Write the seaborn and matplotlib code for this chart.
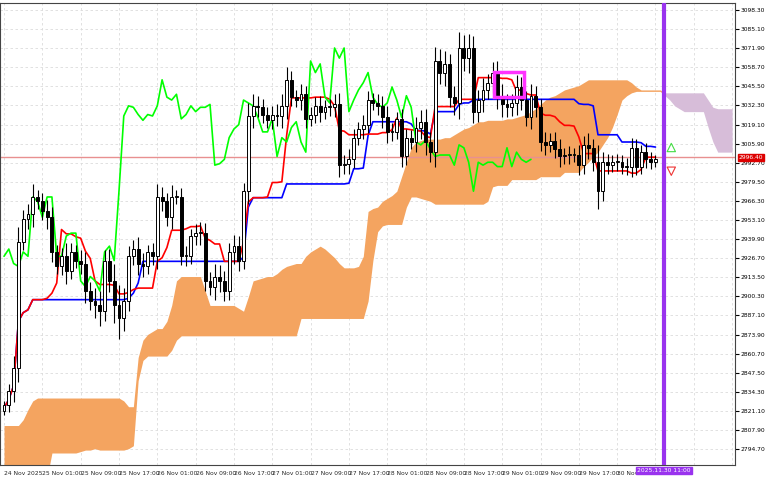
import numpy as np
import pandas as pd
import matplotlib
matplotlib.use("Agg")
import matplotlib.pyplot as plt
import seaborn as sns
from matplotlib.patches import Rectangle

sns.set_style("white")
plt.rcParams['font.family'] = ['DejaVu Sans']

close = [2825, 2835, 2851, 2938, 2954, 2957, 2969, 2966, 2959, 2955, 2931, 2921, 2928, 2918, 2931, 2925,
         2923, 2904, 2897, 2894, 2890, 2925, 2911, 2894, 2885, 2897, 2928, 2933, 2923, 2921, 2931, 2928,
         2969, 2966, 2955, 2969, 2969, 2928, 2928, 2942, 2944, 2944, 2911, 2907, 2914, 2911, 2904, 2931,
         2935, 2925, 2973, 3025, 3032, 3031, 3026, 3022, 3026, 3025, 3032, 3050, 3038, 3036, 3040, 3023,
         3026, 3032, 3028, 3031, 3031, 3033, 2991, 2992, 2995, 3010, 3016, 3019, 3036, 3034, 3032, 3024,
         3014, 3014, 3023, 2997, 3010, 3007, 3017, 3021, 3007, 3000, 3063, 3055, 3061, 3038, 3034, 3072,
         3065, 3072, 3028, 3036, 3043, 3048, 3055, 3038, 3033, 3031, 3034, 3045, 3036, 3024, 3039, 3031,
         3007, 3005, 3008, 3002, 2997, 2998, 2998, 2998, 2991, 3005, 3003, 2993, 2973, 2993, 2991, 2993,
         2993, 2990, 2990, 3003, 2990, 3000, 2995, 2993, 2995]
wick = [3, 5, 8, 10, 6, 7, 9, 5, 6, 8, 7, 5, 6, 9, 6, 5,
        7, 8, 6, 9, 10, 7, 8, 12, 14, 9, 7, 6, 8, 7, 5, 6,
        9, 7, 6, 8, 5, 6, 7, 5, 6, 8, 7, 6, 9, 8, 7, 6,
        8, 7, 6, 9, 8, 7, 6, 5, 6, 7, 8, 9, 6, 5, 7, 6,
        5, 6, 7, 5, 6, 7, 8, 6, 7, 6, 5, 7, 6, 5, 6, 7,
        8, 6, 5, 7, 6, 5, 7, 8, 9, 7, 10, 8, 9, 7, 8, 11,
        9, 10, 8, 7, 8, 6, 7, 8, 9, 7, 6, 8, 7, 6, 8, 7,
        6, 7, 5, 6, 7, 5, 6, 5, 7, 6, 8, 6, 12, 7, 6, 5,
        6, 5, 6, 7, 6, 5, 6, 5, 3]
cloud_top = ([2811] * 4 + [2815, 2822, 2828] + [2830] * 18 + [2828, 2824, 2824, 2858, 2870, 2874,
             2876, 2878, 2878, 2883, 2894, 2911] + [2914] * 5 + [2904] + [2894] * 6 +
             [2892, 2890, 2900, 2911, 2912, 2913, 2914, 2914, 2916, 2919, 2921, 2922, 2923, 2923,
              2928, 2931, 2933, 2935, 2933, 2930, 2927, 2923, 2920, 2920, 2920, 2921, 2928, 2959,
              2961, 2962, 2966, 2968, 2970, 2973, 2983, 2993, 3003, 3007, 3008] + [3009] * 4 +
             [3010, 3010, 3012, 3014, 3016, 3017, 3019, 3021, 3021] + [3022] * 4 +
             [3023, 3023, 3024, 3025, 3026, 3028, 3030, 3033, 3036, 3038, 3039, 3041, 3043, 3044,
              3045, 3046, 3048] + [3050] * 9 + [3048, 3045, 3043] + [3043] * 4 + [3041] * 9 +
             [3036, 3031] + [3030] * 4)
cloud_bottom = ([2775] * 10 + [2792] * 6 + [2793, 2794, 2794, 2795] + [2794] * 6 + [2795, 2797, 2842, 2856] +
                [2859] * 5 + [2863, 2870] + [2873] * 25 + [2885] * 14 +
                [2897, 2925, 2945, 2949] + [2950] * 4 + [2962, 2969, 2969, 2968, 2967, 2966] +
                [2964] * 11 + [2966, 2976, 2977, 2977, 2977] + [2981] * 6 + [2983] * 5 +
                [2986] * 4 + [2990, 2993, 2997, 3000, 3005, 3010, 3017, 3026, 3036, 3039, 3041] +
                [3042] * 6 + [3039, 3036, 3032, 3030] + [3028] * 5 + [3017, 3007] + [3000] * 4)
yticks = [3098.30, 3085.10, 3071.90, 3058.70, 3045.50, 3032.30, 3019.10, 3005.90, 2992.70,
          2979.50, 2966.30, 2953.10, 2939.90, 2926.70, 2913.50, 2900.30, 2887.10, 2873.90,
          2860.70, 2847.50, 2834.30, 2821.10, 2807.90, 2794.70]
xlabels = ["24 Nov 2025", "25 Nov 01:00", "25 Nov 09:00", "25 Nov 17:00", "26 Nov 01:00",
           "26 Nov 09:00", "26 Nov 17:00", "27 Nov 01:00", "27 Nov 09:00", "27 Nov 17:00",
           "28 Nov 01:00", "28 Nov 09:00", "28 Nov 17:00", "29 Nov 01:00", "29 Nov 09:00",
           "29 Nov 17:00", "30 Nov 0"]
current_price = 2996.40
cursor_label = "2025.11.30 11:00"

N = len(close)
c = np.array(close, float)
o = np.concatenate([[c[0] - 4], c[:-1]])
w = np.array(wick, float)[:N]
hi = np.maximum(o, c) + w
lo = np.minimum(o, c) - w
hs, ls = pd.Series(hi), pd.Series(lo)
tenkan = ((hs.rolling(9, min_periods=1).max() + ls.rolling(9, min_periods=1).min()) / 2).values
kijun = ((hs.rolling(26, min_periods=1).max() + ls.rolling(26, min_periods=1).min()) / 2).values
ct = np.array(cloud_top, float)
cb = np.array(cloud_bottom, float)
L = min(len(ct), len(cb))
ct, cb = ct[:L], cb[:L]
xc = np.arange(L)
idx = np.arange(N)
vx = N + 0.8

fig = plt.figure(figsize=(7.68, 4.8), dpi=100)
ax = fig.add_axes([0.0, 15 / 480, 735 / 768, 1 - 18 / 480])
ax.set_xlim(-0.84, 152.6)
ax.set_ylim(2783.7, 3103.1)

for yv in yticks:
    ax.axhline(yv, color="#dcdcdc", lw=0.6, ls=(0, (3, 3)), zorder=0)
for k in range(0, 153, 8):
    ax.axvline(k, color="#dcdcdc", lw=0.6, ls=(0, (3, 3)), zorder=0)

past = xc <= N + 1
ax.fill_between(xc, ct, cb, where=past, color="#F4A460", lw=0, zorder=1)
ax.fill_between(xc, ct, cb, where=~past | (xc == N + 1), color="#D7BDD9", lw=0, zorder=1)

ax.axhline(current_price, color="#e89090", lw=1, zorder=2)

df = pd.DataFrame({"x": idx, "tenkan": tenkan, "kijun": kijun})
sns.lineplot(data=df, x="x", y="kijun", color="#0000ff", lw=1.2, ax=ax, zorder=3)
sns.lineplot(data=df, x="x", y="tenkan", color="#ff0000", lw=1.2, ax=ax, zorder=3)
chik = pd.DataFrame({"x": idx[:N - 26], "v": c[26:]})
sns.lineplot(data=chik, x="x", y="v", color="#00ff00", lw=1.2, ax=ax, zorder=3)

ax.vlines(idx, lo, hi, color="black", lw=0.8, zorder=4)
for i in range(N):
    up = c[i] >= o[i]
    b0, h = min(o[i], c[i]), max(abs(c[i] - o[i]), 0.6)
    ax.add_patch(Rectangle((i - 0.3, b0), 0.6, h, facecolor="white" if up else "black",
                           edgecolor="black", lw=0.7, zorder=5))

ax.add_patch(Rectangle((102.3, 3038), 6.2, 17.5, fill=False, edgecolor="#ff33ff", lw=2.5, zorder=6))
ax.axvline(vx, color="#9933ee", lw=3, zorder=6)
ax.annotate("", xy=(vx + 1.5, 3008), xytext=(vx + 1.5, 2999),
            arrowprops=dict(arrowstyle="simple,head_width=0.6,head_length=0.6,tail_width=0.3",
                            fc="white", ec="#44dd44", lw=0.8), zorder=7)
ax.annotate("", xy=(vx + 1.5, 2982), xytext=(vx + 1.5, 2991),
            arrowprops=dict(arrowstyle="simple,head_width=0.6,head_length=0.6,tail_width=0.3",
                            fc="white", ec="#ee3333", lw=0.8), zorder=7)

ax.yaxis.tick_right()
ax.set_yticks(yticks)
ax.set_yticklabels([f"{v:.2f}" for v in yticks], fontsize=4.3)
ax.tick_params(axis="y", length=3, pad=1, colors="black")
ax.set_xticks(range(0, 8 * len(xlabels), 8))
ax.set_xticklabels(xlabels, fontsize=4.3, ha="left")
ax.tick_params(axis="x", length=2, pad=2)
ax.set_xlabel("")
ax.set_ylabel("")
for s in ax.spines.values():
    s.set_color("#444444")
    s.set_linewidth(0.8)

ax.text(1.005, current_price, f"{current_price:.2f}", transform=ax.get_yaxis_transform(),
        fontsize=4.3, color="white", va="center", ha="left",
        bbox=dict(boxstyle="square,pad=0.15", fc="#dd0000", ec="#dd0000"), zorder=10, clip_on=False)
ax.text(vx, -0.006, cursor_label, transform=ax.get_xaxis_transform(), fontsize=4.3, color="white",
        va="top", ha="center", bbox=dict(boxstyle="square,pad=0.15", fc="#9933ee", ec="#9933ee"),
        zorder=10, clip_on=False)

fig.savefig("out.png", dpi=100)
